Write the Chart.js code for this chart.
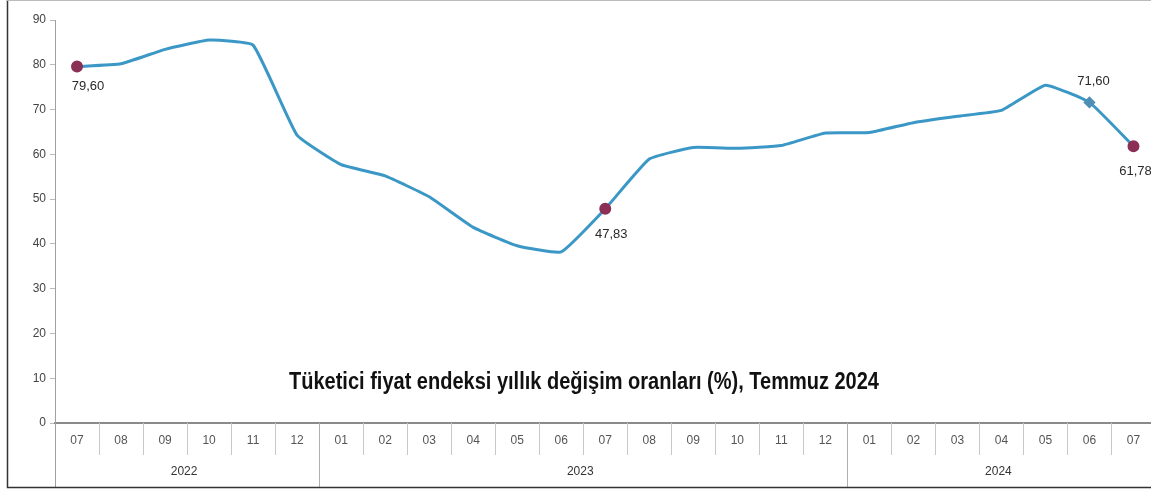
<!DOCTYPE html>
<html><head><meta charset="utf-8">
<script src="https://cdn.jsdelivr.net/npm/chart.js@4.4.1/dist/chart.umd.min.js"></script>
<style>
html,body{margin:0;padding:0;background:#fff;overflow:hidden;}
#wrap{position:relative;width:1151px;height:496px;overflow:hidden;}
</style></head><body>
<div id="wrap"><canvas id="c" width="1163" height="496"></canvas></div>
<script>
const months = ["07","08","09","10","11","12","01","02","03","04","05","06","07","08","09","10","11","12","01","02","03","04","05","06","07"];
const years = ["2022","2023","2024"];
const yearSpans = [6, 12, 7];
const cpiValues = [79.60,80.21,83.45,85.51,84.39,64.27,57.68,55.18,50.51,43.68,39.59,38.21,47.83,58.94,61.53,61.36,61.98,64.77,64.86,67.07,68.50,69.80,75.45,71.60,61.78];
const labeledIdx = [0, 12, 23, 24];
const yTicks = [0,10,20,30,40,50,60,70,80,90];
const titleText = "Tüketici fiyat endeksi yıllık değişim oranları (%), Temmuz 2024";

const labelStyle = {
  0: {dx: 11, dy: 20},
  12: {dx: 6, dy: 26},
  23: {dx: 4, dy: -21},
  24: {dx: 2, dy: 25}
};

function fmt(v){ return v.toFixed(2).replace('.', ','); }

const pointColors = cpiValues.map((v,i)=> i===23 ? '#4f8fb6' : '#8c2f55');
const pointRadius = cpiValues.map((v,i)=> labeledIdx.includes(i) ? (i===23?4:4.5) : 0);
const pointStyles = cpiValues.map((v,i)=> i===23 ? 'rectRot' : 'circle');

const deco = {
  id: 'deco',
  afterDraw(chart){
    const ctx = chart.ctx, x = chart.scales.x, y = chart.scales.y;
    const ca = chart.chartArea;
    const step = x.getPixelForValue(1) - x.getPixelForValue(0);
    const y0 = ca.bottom, yMid = y0 + 32, yEnd = 487;
    const W = 1151;
    ctx.save();
    ctx.strokeStyle = '#c8c8c8'; ctx.lineWidth = 1;
    for(let i=1;i<months.length;i++){
      const px = Math.round(x.getPixelForValue(i) - step/2) + 0.5;
      ctx.beginPath(); ctx.moveTo(px, y0); ctx.lineTo(px, yMid); ctx.stroke();
    }
    ctx.strokeStyle = '#b0b0b0';
    let acc = 0;
    ctx.font = '12px "Liberation Sans", Arial, sans-serif';
    ctx.fillStyle = '#333'; ctx.textAlign = 'center'; ctx.textBaseline = 'middle';
    for(let k=0;k<years.length;k++){
      const startPx = x.getPixelForValue(acc) - step/2;
      const endPx = x.getPixelForValue(acc + yearSpans[k] - 1) + step/2;
      if(k>0){
        const px = Math.round(startPx)+0.5;
        ctx.beginPath(); ctx.moveTo(px, y0); ctx.lineTo(px, yEnd); ctx.stroke();
      }
      ctx.fillText(years[k], (startPx + endPx)/2 - 3, 472);
      acc += yearSpans[k];
    }
    ctx.strokeStyle = '#a0a0a0';
    ctx.beginPath(); ctx.moveTo(Math.round(ca.left)+0.5, y0); ctx.lineTo(Math.round(ca.left)+0.5, yEnd); ctx.stroke();
    ctx.strokeStyle = '#333'; ctx.lineWidth = 1.5;
    ctx.beginPath(); ctx.moveTo(7.5, 0); ctx.lineTo(7.5, 487.5); ctx.lineTo(W+12, 487.5); ctx.stroke();
    ctx.strokeStyle = '#bbb'; ctx.lineWidth = 1;
    ctx.beginPath(); ctx.moveTo(7, 0.5); ctx.lineTo(W+12, 0.5); ctx.stroke();
    ctx.font = '13px "Liberation Sans", Arial, sans-serif';
    ctx.fillStyle = '#2a2a2a'; ctx.textAlign = 'center'; ctx.textBaseline = 'middle';
    labeledIdx.forEach(i=>{
      const px = x.getPixelForValue(i), py = y.getPixelForValue(cpiValues[i]);
      const s = labelStyle[i];
      ctx.fillText(fmt(cpiValues[i]), px + s.dx, py + s.dy);
    });
    ctx.font = 'bold 23px "Liberation Sans Narrow", "Liberation Sans", Arial, sans-serif';
    const w = ctx.measureText(titleText).width;
    const target = 590;
    ctx.translate(584, 381);
    ctx.scale(target / w, 1);
    ctx.fillStyle = '#111'; ctx.textAlign = 'center'; ctx.textBaseline = 'alphabetic';
    ctx.fillText(titleText, 0, 8);
    ctx.restore();
  }
};

new Chart(document.getElementById('c'), {
  type: 'line',
  data: {
    labels: months,
    datasets: [{
      data: cpiValues,
      borderColor: '#3a97c6',
      borderWidth: 3,
      tension: 0.12,
      pointRadius: pointRadius,
      pointHoverRadius: pointRadius,
      pointBackgroundColor: pointColors,
      pointBorderColor: pointColors,
      pointStyle: pointStyles,
      clip: false
    }]
  },
  options: {
    responsive: false,
    animation: false,
    events: [],
    layout: { padding: { left: 0, right: 0, top: 20, bottom: 0 } },
    plugins: { legend: {display:false}, tooltip: {enabled:false}, title: {display:false} },
    scales: {
      x: {
        offset: true,
        grid: { display: false, drawTicks: false },
        border: { display: true, color: '#8a8a8a', width: 2 },
        ticks: { color: '#555', font: { size: 12, family: '"Liberation Sans", Arial, sans-serif' }, padding: 10, maxRotation: 0, autoSkip: false },
        afterFit(s){ s.height = 73; }
      },
      y: {
        min: 0, max: 90,
        afterBuildTicks(s){ s.ticks = yTicks.map(v=>({value:v})); },
        grid: { display: true, drawOnChartArea: false, drawTicks: true, tickLength: 5, color: '#bbb' },
        border: { display: true, color: '#a0a0a0', width: 1 },
        ticks: { color: '#444', font: { size: 12, family: '"Liberation Sans", Arial, sans-serif' }, padding: 4 },
        afterFit(s){ s.width = 55; }
      }
    }
  },
  plugins: [deco]
});
</script>
</body></html>
